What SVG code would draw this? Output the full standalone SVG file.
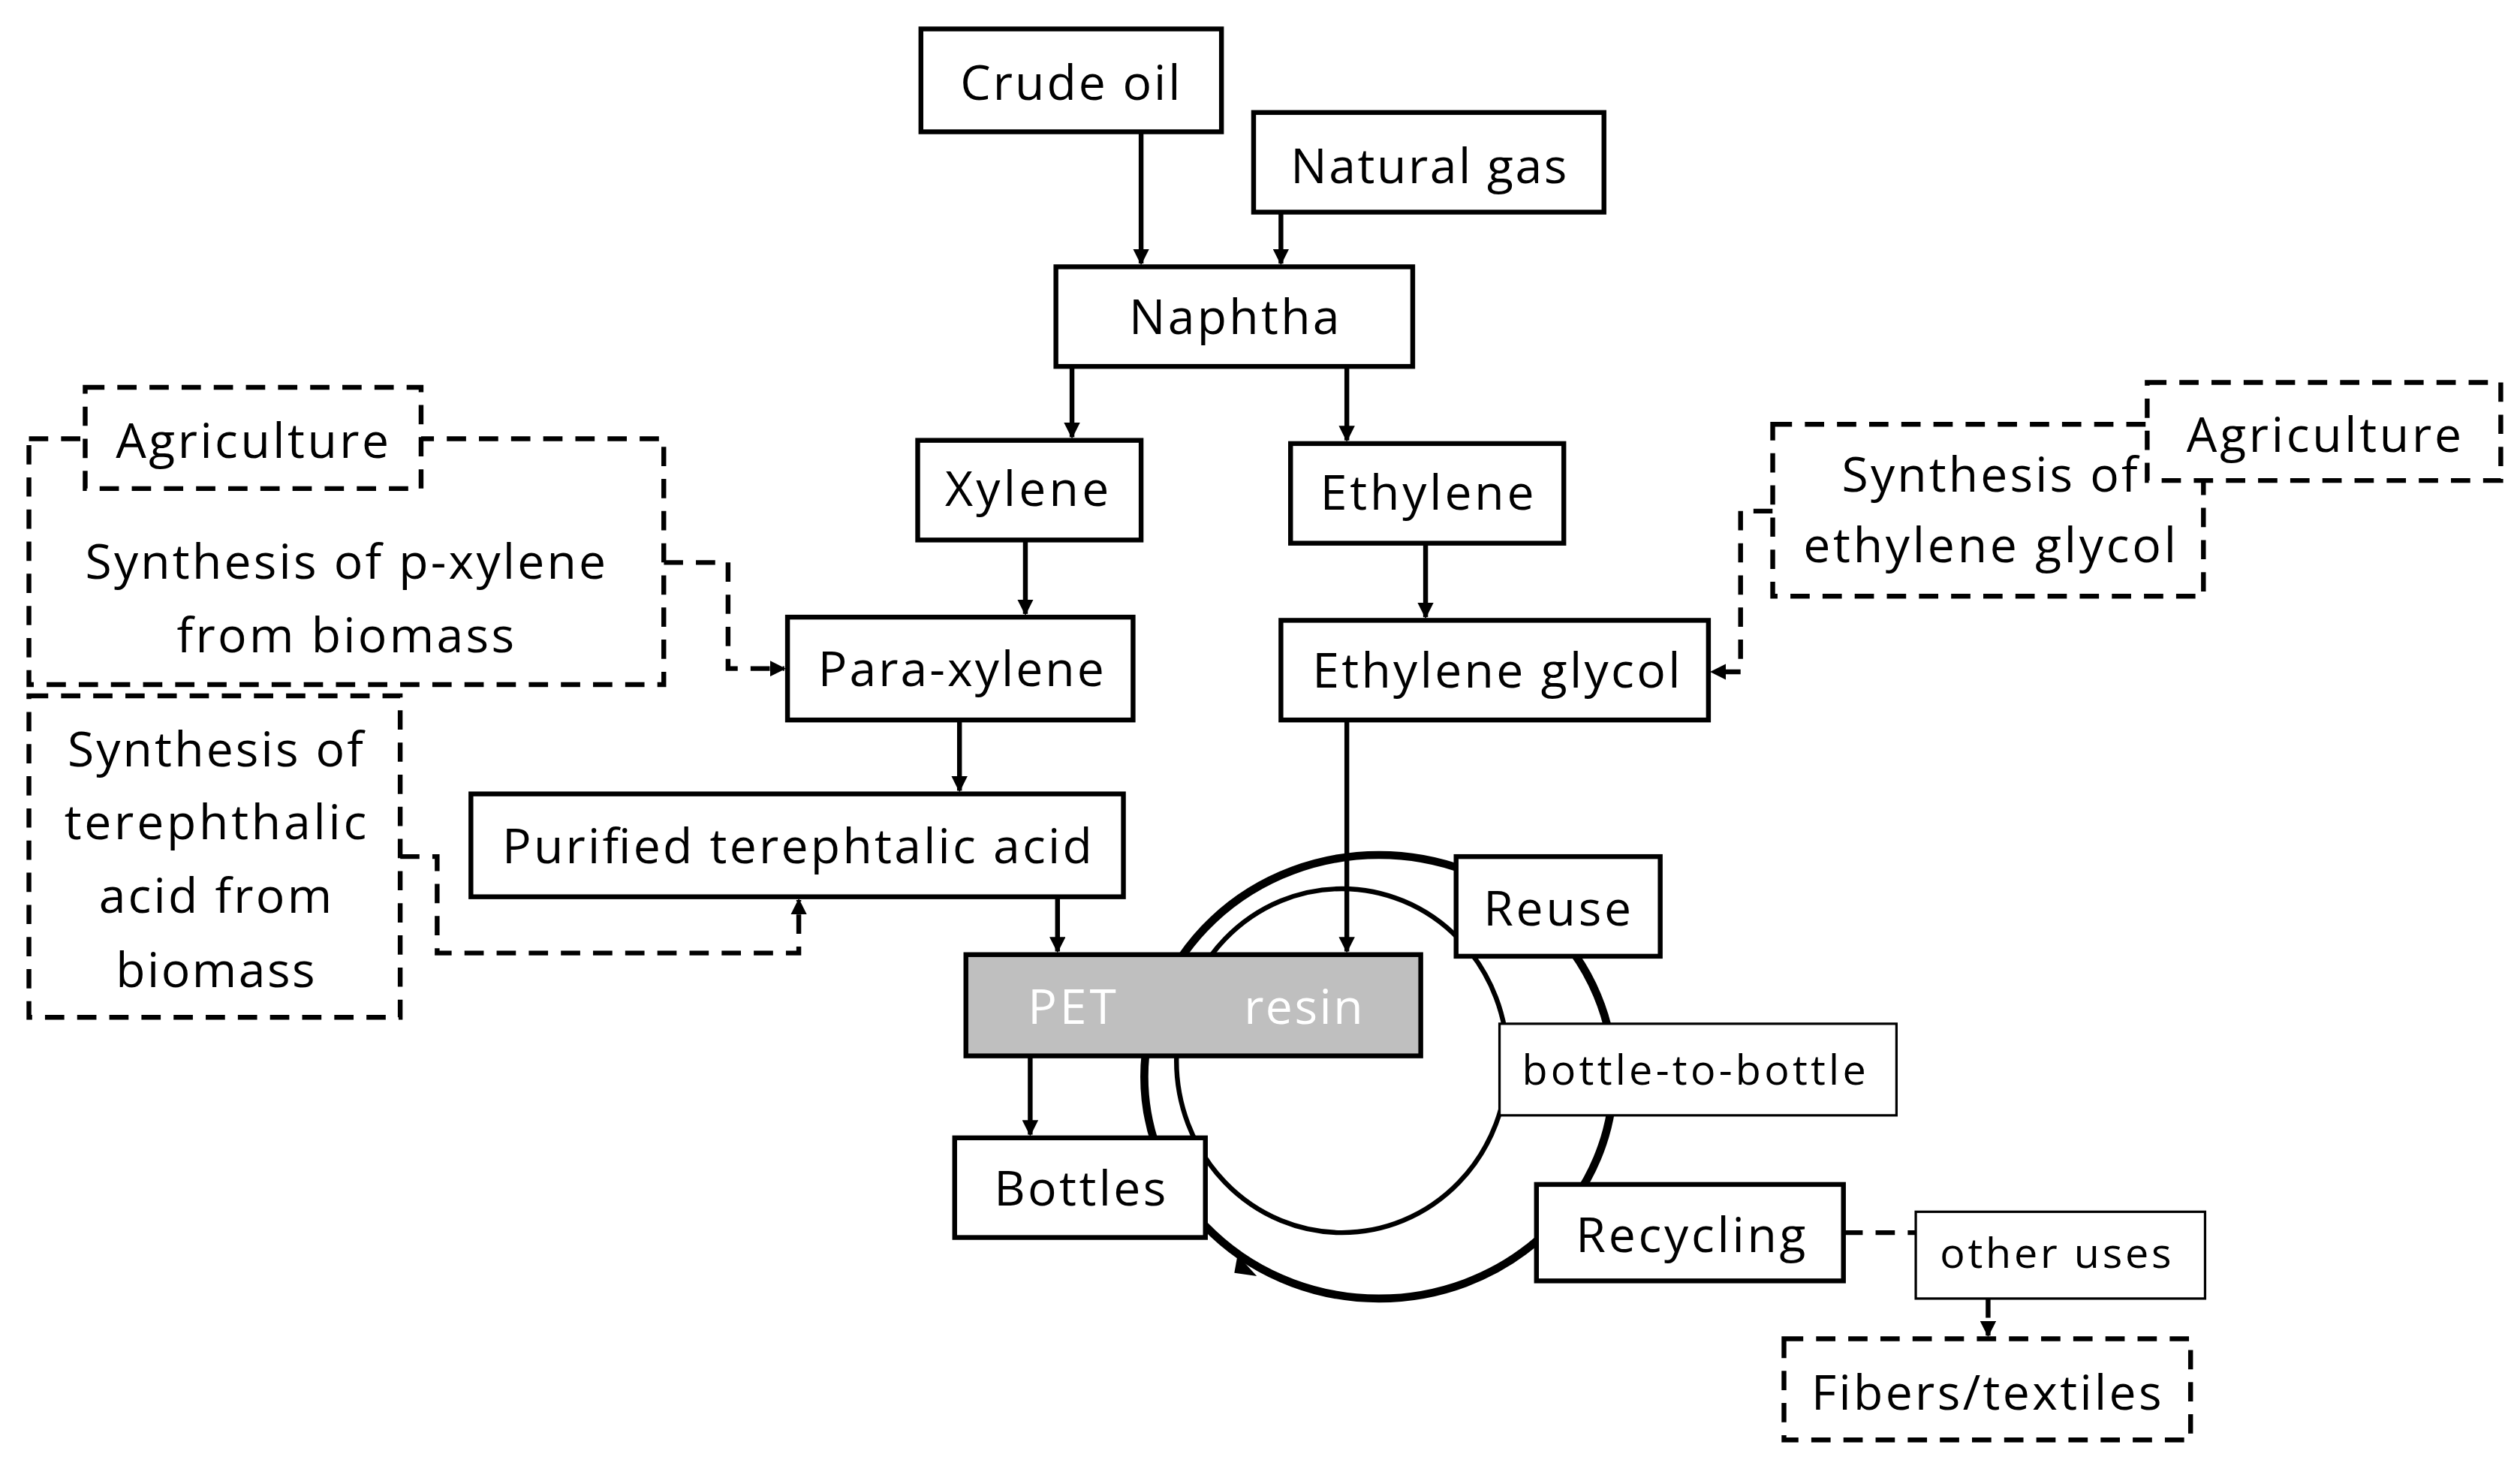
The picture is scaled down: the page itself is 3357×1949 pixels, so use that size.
<svg xmlns="http://www.w3.org/2000/svg" width="3357" height="1949" viewBox="0 0 3357 1949">
<style>
.b{fill:#fff;stroke:#000;stroke-width:3}
.t{fill:#fff;stroke:#000;stroke-width:1.5}
.d{fill:none;stroke:#000;stroke-width:3;stroke-dasharray:12 8}
.db{fill:#fff;stroke:#000;stroke-width:3;stroke-dasharray:12 8}
.l{fill:none;stroke:#000;stroke-width:3}
text{font-family:"Open Sans","Liberation Sans",sans-serif;font-size:30px;text-anchor:middle;fill:#000}
.s{font-size:26px}
</style>
<defs>
<marker id="a" markerWidth="10" markerHeight="10" refX="9" refY="5" orient="auto" markerUnits="userSpaceOnUse"><path d="M0,0 L10,5 L0,10 z" fill="#000"/></marker>
</defs>
<rect width="3357" height="1949" fill="#fff"/>
<g transform="scale(2.141)">
<g id="cycle">
<ellipse cx="858" cy="670" rx="146" ry="138" fill="none" stroke="#000" stroke-width="5"/>
<ellipse cx="835" cy="660" rx="103" ry="107" fill="none" stroke="#000" stroke-width="3"/>
<path d="M770,781 L782,794 L768,792 z" fill="#000"/>
</g>
<g id="connectors">
<line class="l" x1="710" y1="82" x2="710" y2="164" marker-end="url(#a)"/>
<line class="l" x1="797" y1="132" x2="797" y2="164" marker-end="url(#a)"/>
<line class="l" x1="667" y1="228" x2="667" y2="272" marker-end="url(#a)"/>
<line class="l" x1="838" y1="228" x2="838" y2="274" marker-end="url(#a)"/>
<line class="l" x1="638" y1="336" x2="638" y2="382" marker-end="url(#a)"/>
<line class="l" x1="887" y1="338" x2="887" y2="384" marker-end="url(#a)"/>
<line class="l" x1="597" y1="448" x2="597" y2="492" marker-end="url(#a)"/>
<line class="l" x1="658" y1="558" x2="658" y2="592" marker-end="url(#a)"/>
<line class="l" x1="838" y1="448" x2="838" y2="592" marker-end="url(#a)"/>
<line class="l" x1="641" y1="657" x2="641" y2="706" marker-end="url(#a)"/>
<polyline class="d" points="413,350 453,350 453,416 488,416" marker-end="url(#a)"/>
<polyline class="d" points="249,533 272,533 272,593 497,593 497,560" marker-end="url(#a)"/>
<polyline class="d" points="1103,318 1083,318 1083,418 1065,418" marker-end="url(#a)"/>
<line class="d" x1="1147" y1="767" x2="1192" y2="767"/>
<line class="d" x1="1237" y1="808" x2="1237" y2="831" marker-end="url(#a)"/>
</g>
<g id="crude"><rect class="b" x="573" y="18" width="187" height="64"/><text x="666" y="62" textLength="137">Crude oil</text></g>
<g id="gas"><rect class="b" x="780" y="70" width="218" height="62"/><text x="889" y="114" textLength="172">Natural gas</text></g>
<g id="naphtha"><rect class="b" x="657" y="166" width="222" height="62"/><text x="768" y="208" textLength="131">Naphtha</text></g>
<g id="xylene"><rect class="b" x="571" y="274" width="139" height="62"/><text x="639" y="315" textLength="102">Xylene</text></g>
<g id="ethylene"><rect class="b" x="803" y="276" width="170" height="62"/><text x="888" y="317" textLength="133">Ethylene</text></g>
<g id="paraxylene"><rect class="b" x="490" y="384" width="215" height="64"/><text x="598" y="427" textLength="178">Para-xylene</text></g>
<g id="eg"><rect class="b" x="797" y="386" width="266" height="62"/><text x="931" y="428" textLength="229">Ethylene glycol</text></g>
<g id="pta"><rect class="b" x="293" y="494" width="406" height="64"/><text x="496" y="537" textLength="367">Purified terephtalic acid</text></g>
<g id="pet"><rect x="601" y="594" width="283" height="63" fill="#bfbfbf" stroke="#000" stroke-width="3"/><text x="667" y="637" fill="#fff" style="fill:#fff" textLength="55">PET</text><text x="811" y="637" style="fill:#fff" textLength="74">resin</text></g>
<g id="reuse"><rect class="b" x="906" y="533" width="127" height="62"/><text x="969" y="576" textLength="92">Reuse</text></g>
<g id="b2b"><rect class="t" x="933" y="637" width="247" height="57"/><text class="s" x="1054" y="675" textLength="214">bottle-to-bottle</text></g>
<g id="bottles"><rect class="b" x="594" y="708" width="156" height="62"/><text x="672" y="750" textLength="107">Bottles</text></g>
<g id="recycling"><rect class="b" x="956" y="737" width="191" height="60"/><text x="1052" y="779" textLength="143">Recycling</text></g>
<g id="other"><rect class="t" x="1192" y="754" width="180" height="54"/><text class="s" x="1279" y="789" textLength="144">other uses</text></g>
<g id="fibers"><rect class="db" x="1110" y="833" width="253" height="63"/><text x="1236" y="877" textLength="218">Fibers/textiles</text></g>
<g id="synpx"><rect class="db" x="18" y="273" width="395" height="153"/><text x="215" y="360" textLength="324">Synthesis of p-xylene</text><text x="215" y="406" textLength="210">from biomass</text></g>
<g id="agl"><rect class="db" x="53" y="241" width="209" height="63"/><text x="157" y="285" textLength="170">Agriculture</text></g>
<g id="synta"><rect class="db" x="18" y="433" width="231" height="200"/><text x="134" y="477" textLength="184">Synthesis of</text><text x="134" y="522" textLength="188">terephthalic</text><text x="134" y="568" textLength="145">acid from</text><text x="134" y="614" textLength="124">biomass</text></g>
<g id="syneg"><rect class="db" x="1103" y="264" width="268" height="107"/><text x="1238" y="306" textLength="184">Synthesis of</text><text x="1238" y="350" textLength="232">ethylene glycol</text></g>
<g id="agr"><rect class="db" x="1336" y="238" width="220" height="61"/><text x="1446" y="281" textLength="171">Agriculture</text></g>
</g>
</svg>
